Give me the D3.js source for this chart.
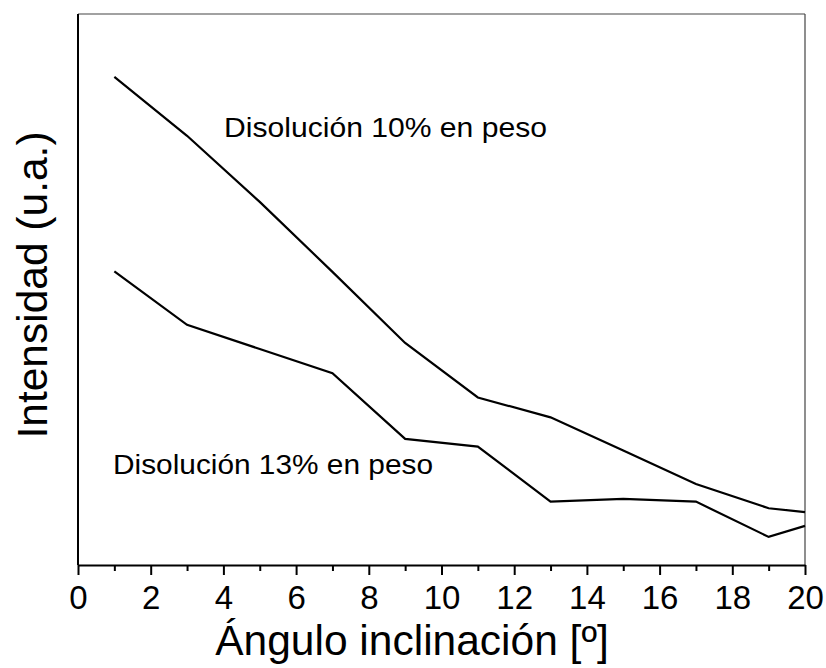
<!DOCTYPE html>
<html>
<head>
<meta charset="utf-8">
<script src="https://cdn.jsdelivr.net/npm/d3@7"></script>
<style>
  html, body { margin: 0; padding: 0; background: #fff; }
  svg { display: block; font-family: "Liberation Sans", Arial, sans-serif; }
</style>
</head>
<body>
<svg id="chart" width="826" height="668"></svg>
<script>
// Inclination angle (degrees)
const angles = [1, 3, 5, 7, 9, 11, 13, 15, 17, 19, 20];
// Intensity (arbitrary units) for each solution
const intensity10 = [88.6, 77.9, 65.9, 53.2, 40.3, 30.4, 26.8, 20.8, 14.7, 10.3, 9.6];
const intensity13 = [53.3, 43.6, 39.2, 34.8, 22.9, 21.5, 11.5, 12.0, 11.5, 5.1, 7.1];
const seriesLabels = ["Disolución 10% en peso", "Disolución 13% en peso"];
const xMajorTicks = [0, 2, 4, 6, 8, 10, 12, 14, 16, 18, 20];
const xMinorTicks = [1, 3, 5, 7, 9, 11, 13, 15, 17, 19];
const xTitle = "Ángulo inclinación [º]";
const yTitle = "Intensidad (u.a.)";

const svg = d3.select("#chart");
const mLeft = 78, mRight = 805, mTop = 14, mBottom = 565;

const x = d3.scaleLinear().domain([0, 20]).range([mLeft, mRight]);
const y = d3.scaleLinear().domain([0, 100]).range([mBottom, mTop]);

// frame: thin top and right edges
svg.append("line").attr("x1", mLeft).attr("x2", mRight).attr("y1", mTop).attr("y2", mTop)
  .attr("stroke", "#444").attr("stroke-width", 1.2);
svg.append("line").attr("x1", mRight).attr("x2", mRight).attr("y1", mTop).attr("y2", mBottom)
  .attr("stroke", "#444").attr("stroke-width", 1.2);

// left axis: spine only
svg.append("line").attr("x1", mLeft).attr("x2", mLeft).attr("y1", mTop).attr("y2", mBottom)
  .attr("stroke", "#000").attr("stroke-width", 2);

// minor ticks
const xMinor = d3.axisBottom(x).tickValues(xMinorTicks).tickSize(6).tickFormat("");
svg.append("g").attr("transform", `translate(0,${mBottom})`).call(xMinor)
  .call(g => g.select(".domain").remove())
  .call(g => g.selectAll("line").attr("stroke", "#000").attr("stroke-width", 2));

// major ticks + labels
const xAxis = d3.axisBottom(x).tickValues(xMajorTicks).tickSize(10).tickPadding(11)
  .tickFormat(d3.format("d")).tickSizeOuter(0);
svg.append("g").attr("transform", `translate(0,${mBottom})`).call(xAxis)
  .call(g => g.select(".domain").attr("stroke", "#000").attr("stroke-width", 2))
  .call(g => g.selectAll(".tick line").attr("stroke", "#000").attr("stroke-width", 2))
  .call(g => g.selectAll(".tick text").attr("fill", "#000")
    .attr("font-family", "Liberation Sans, Arial, sans-serif").attr("font-size", 33));

// axis titles
svg.append("text").attr("x", 412).attr("y", 655)
  .attr("text-anchor", "middle").attr("font-size", 42.5).attr("fill", "#000").text(xTitle);
svg.append("text").attr("transform", `translate(47,285) rotate(-90)`)
  .attr("text-anchor", "middle").attr("font-size", 42.5).attr("fill", "#000").text(yTitle);

// series lines
const line = d3.line().x((d, i) => x(angles[i])).y(d => y(d));
[intensity10, intensity13].forEach(vals => {
  svg.append("path").datum(vals).attr("d", line)
    .attr("fill", "none").attr("stroke", "#000").attr("stroke-width", 2.2)
    .attr("stroke-linejoin", "miter");
});

// series annotations
svg.append("text").attr("x", 224).attr("y", 137).attr("font-size", 27.5)
  .attr("textLength", 323).attr("lengthAdjust", "spacingAndGlyphs")
  .attr("fill", "#000").text(seriesLabels[0]);
svg.append("text").attr("x", 113).attr("y", 474).attr("font-size", 27.5)
  .attr("textLength", 320).attr("lengthAdjust", "spacingAndGlyphs")
  .attr("fill", "#000").text(seriesLabels[1]);
</script>
</body>
</html>
